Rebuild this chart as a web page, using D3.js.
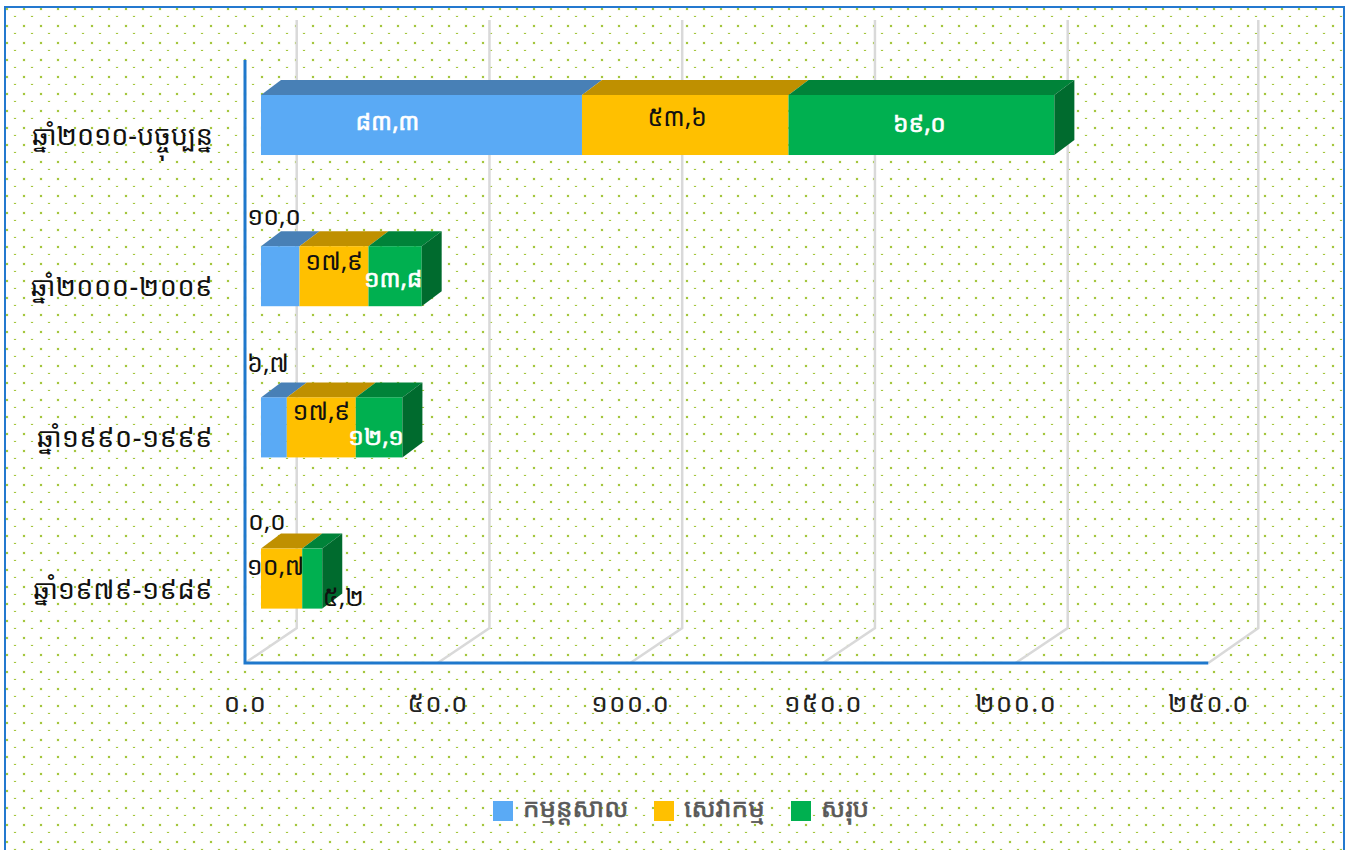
<!DOCTYPE html>
<html><head><meta charset="utf-8">
<script src="https://cdnjs.cloudflare.com/ajax/libs/d3/7.8.5/d3.min.js"></script>
<style>
html,body{margin:0;padding:0;background:#fff;overflow:hidden}
svg{display:block}
text{font-family:"Noto Sans Khmer","Khmer OS","DejaVu Sans","Noto Sans",sans-serif}
</style></head><body>
<svg id="c" width="1357" height="850"></svg>
<script>
const categories=["ឆ្នាំ២០១០-បច្ចុប្បន្ន","ឆ្នាំ២០០០-២០០៩","ឆ្នាំ១៩៩០-១៩៩៩","ឆ្នាំ១៩៧៩-១៩៨៩"];
const seriesNames=["កម្មន្តសាល","សេវាកម្ម","សរុប"];
const industry=[83.3,10.0,6.7,0.0];
const services=[53.6,17.9,17.9,10.7];
const totals=[69.0,13.8,12.1,5.2];
const xTicks=[0,50,100,150,200,250];

const kh=s=>String(s).replace(/[0-9]/g,d=>"០១២៣៤៥៦៧៨៩"[+d]);
const svg=d3.select("#c");
const defs=svg.append("defs");
const pat=defs.append("pattern").attr("id","dots").attr("patternUnits","userSpaceOnUse")
  .attr("width",17).attr("height",17).attr("x",0).attr("y",0);
[[6,8],[14,16]].forEach(([px,py])=>{
  pat.append("rect").attr("x",px-0.5).attr("y",py-0.5).attr("width",3).attr("height",3).attr("fill","#f0f5dc");
  pat.append("rect").attr("x",px).attr("y",py).attr("width",2).attr("height",2).attr("fill","#a4c63e");
});

svg.append("rect").attr("x",5).attr("y",7).attr("width",1339).attr("height",850)
  .attr("fill","url(#dots)").attr("stroke","#2479cf").attr("stroke-width",2);

const x=d3.scaleLinear().domain([0,250]).range([245,1208.3]);
const xBack=d3.scaleLinear().domain([0,200,250]).range([296.7,1067.7,1258.3]);
const y=d3.scaleBand().domain(categories).range([49.4,654.2]).paddingInner(0.603).paddingOuter(0.3015);
const backFloorY=628, wallTop=20, floorY=663;
const barOff=16, barD={dx:20,dy:-15};

const grid=svg.append("g").attr("fill","none").attr("stroke","#d9d9d9").attr("stroke-width",2.5);
grid.selectAll("path").data(xTicks).join("path")
  .attr("d",t=>`M${x(t)},${floorY}L${xBack(t)},${backFloorY}L${xBack(t)},${wallTop}`);

svg.append("path").attr("d",`M${x(0)},60V${floorY}H${x(250)}`).attr("fill","none").attr("stroke","#1f78cc").attr("stroke-width",3);

const ax=svg.append("g").attr("transform",`translate(0,${floorY})`)
  .call(d3.axisBottom(x).tickValues(xTicks).tickSize(0).tickPadding(31).tickFormat(d=>kh(d3.format(".1f")(d))));
ax.select(".domain").remove();
ax.selectAll("text").attr("font-size",26).attr("fill","#222").attr("letter-spacing",1.2);

const catText=svg.append("g").selectAll("text").data(categories).join("text")
  .attr("x",213).attr("y",c=>y(c)+y.bandwidth()/2+20).attr("text-anchor","end")
  .attr("font-size",27).attr("fill","#111");
catText.each(function(c){
  const m=c.match(/^(.*?)([០-៩]{4}-[០-៩]{4})$/);
  const t=d3.select(this);
  if(m){ t.append("tspan").text(m[1]); t.append("tspan").attr("letter-spacing",0.6).text(m[2]); }
  else t.text(c);
});

const seriesVals=[industry,services,totals];
const cols=[{f:"#5aaaf5",t:"#4880b6",s:"#3e6f9e"},{f:"#ffc000",t:"#bf9000",s:"#a87f00"},{f:"#00b050",t:"#008339",s:"#006b2e"}];
const X=v=>x(v)+barOff;
categories.forEach((c,i)=>{
  let cum=0; const y0=y(c), h=y.bandwidth();
  const g=svg.append("g");
  seriesVals.forEach((vals,k)=>{
    const v=vals[i], a=X(cum), b=X(cum+v); cum+=v;
    if(v===0) return;
    const col=cols[k];
    g.append("path").attr("d",`M${a},${y0}L${a+barD.dx},${y0+barD.dy}H${b+barD.dx}L${b},${y0}Z`).attr("fill",col.t);
    g.append("rect").attr("x",a).attr("y",y0).attr("width",b-a).attr("height",h).attr("fill",col.f);
    if(k===2) g.append("path").attr("d",`M${b},${y0}L${b+barD.dx},${y0+barD.dy}V${y0+h+barD.dy}L${b},${y0+h}Z`).attr("fill",col.s);
  });
});

const nudges=[
 [[-34,-3],[-8,-7],[-2,-1]],
 [[-6,-59],[0,-14],[-2,3]],
 [[-6,-63],[0,-15],[-3,10]],
 [[6,-57],[-6,-12],[31,19]]
];
const labelFill=[["#fff","#111","#fff"],["#111","#111","#fff"],["#111","#111","#fff"],["#111","#111","#111"]];
categories.forEach((c,i)=>{
  let cum=0;
  seriesVals.forEach((vals,k)=>{
    const v=vals[i], m=X(cum+v/2); cum+=v;
    const [dx,dy]=nudges[i][k];
    const white=labelFill[i][k]==="#fff";
    svg.append("text").attr("x",m+dx).attr("y",y(c)+y.bandwidth()/2+dy+8)
      .attr("text-anchor","middle").attr("font-size",white?24.5:25).attr("fill",labelFill[i][k])
      .attr("stroke",white?"#fff":"none").attr("stroke-width",white?0.6:0)
      .text(kh(d3.format(".1f")(v)).replace(".",","));
  });
});

const legendX=[493,654,791];
const lg=svg.append("g");
seriesNames.forEach((n,k)=>{
  lg.append("rect").attr("x",legendX[k]).attr("y",801).attr("width",20).attr("height",20).attr("fill",cols[k].f);
  lg.append("text").attr("x",legendX[k]+30).attr("y",817).attr("font-size",26).attr("fill","#595959")
    .attr("stroke","#595959").attr("stroke-width",0.6).text(n);
});
</script>
</body></html>
